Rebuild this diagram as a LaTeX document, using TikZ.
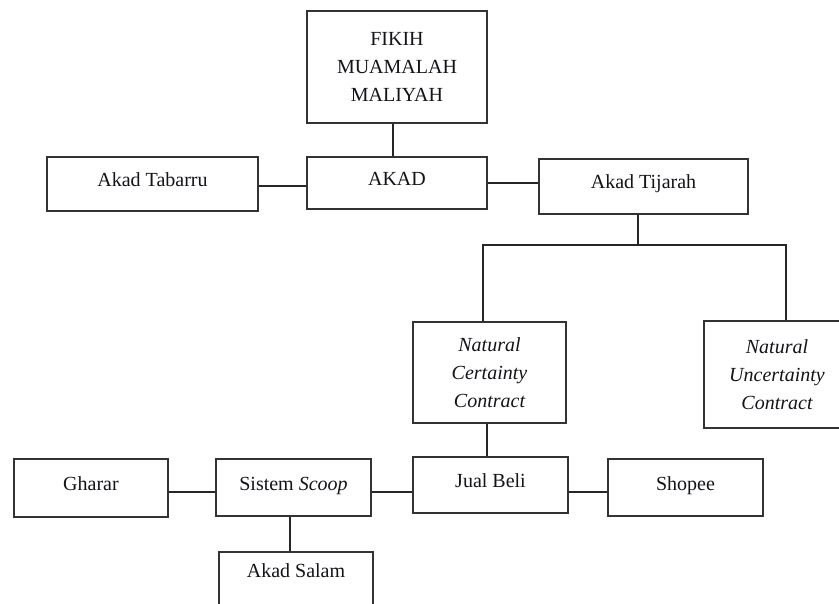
\documentclass[tikz,border=0pt]{standalone}
\usepackage{fontspec}
\setmainfont{Liberation Serif}
\usetikzlibrary{calc}
\definecolor{boxline}{HTML}{333333}
\definecolor{txt}{HTML}{141418}
\tikzset{
  box/.style={draw=boxline, line width=2.4pt, fill=white, inner sep=0pt,
    font=\fontsize{20}{28}\selectfont, text=txt, align=center},
  onebox/.style={box, text height=14pt, text depth=9pt},
  conn/.style={draw=black!85, line width=1.5pt}
}
\begin{document}
\begin{tikzpicture}[x=1pt,y=-1pt]
\useasboundingbox (0,0) rectangle (839,604);
\fill[white] (0,0) rectangle (839,604);
\begin{scope}
\clip (0,0) rectangle (839,604);
% nodes
\node[box, minimum width=180pt, minimum height=112pt] (fikih) at (397,67)
  {\raisebox{4pt}{\parbox{170pt}{\centering FIKIH\\MUAMALAH\\MALIYAH}}};
\node[onebox, minimum width=180pt, minimum height=52pt] (akad) at (397,183) {AKAD};
\node[onebox, minimum width=211pt, minimum height=54pt] (tabarru) at (152.5,184) {Akad Tabarru};
\node[onebox, minimum width=209pt, minimum height=55pt] (tijarah) at (643.5,186.5) {Akad Tijarah};
\node[box, minimum width=153pt, minimum height=101pt] (certainty) at (489.5,372.5)
  {\itshape Natural\\\itshape Certainty\\\itshape Contract};
\node[box, minimum width=146pt, minimum height=107pt] (uncertainty) at (777,374.5)
  {\raisebox{3pt}{\parbox{140pt}{\centering\itshape Natural\\Uncertainty\\Contract}}};
\node[onebox, minimum width=154pt, minimum height=58pt] (gharar) at (91,488) {Gharar};
\node[onebox, minimum width=155pt, minimum height=57pt] (scoop) at (293.5,487.5) {Sistem \textit{Scoop}};
\node[onebox, minimum width=155pt, minimum height=56pt] (jualbeli) at (490.5,485) {Jual Beli};
\node[onebox, minimum width=155pt, minimum height=57pt] (shopee) at (685.5,487.5) {Shopee};
\node[box, minimum width=154pt, minimum height=58pt, text height=14pt, text depth=22pt] (salam) at (296,581) {Akad Salam};
% connectors
\coordinate (split) at (638,245);
\coordinate (cL) at (483,245);
\coordinate (cR) at (786,245);
\draw[conn] ($(fikih.south)+(-4,0)$) -- ($(akad.north)+(-4,0)$);
\draw[conn] ($(tabarru.east)+(0,2)$) -- ($(akad.west)+(0,3)$);
\draw[conn] (akad.east) -- (akad.east -| tijarah.west);
\draw[conn] ($(tijarah.south)+(-5.5,0)$) -- (split);
\draw[conn] (cL |- certainty.north) -- (cL) -- (cR) -- (cR |- uncertainty.north);
\draw[conn] ($(certainty.south)+(-2.5,0)$) -- ($(jualbeli.north)+(-3.5,0)$);
\draw[conn] ($(gharar.east)+(0,4)$) -- ($(scoop.west)+(0,4.5)$);
\draw[conn] ($(scoop.east)+(0,4.5)$) -- ($(jualbeli.west)+(0,7)$);
\draw[conn] ($(jualbeli.east)+(0,7)$) -- ($(shopee.west)+(0,4.5)$);
\draw[conn] ($(scoop.south)+(-3.5,0)$) -- ($(salam.north)+(-6,0)$);
\end{scope}
\end{tikzpicture}
\end{document}
